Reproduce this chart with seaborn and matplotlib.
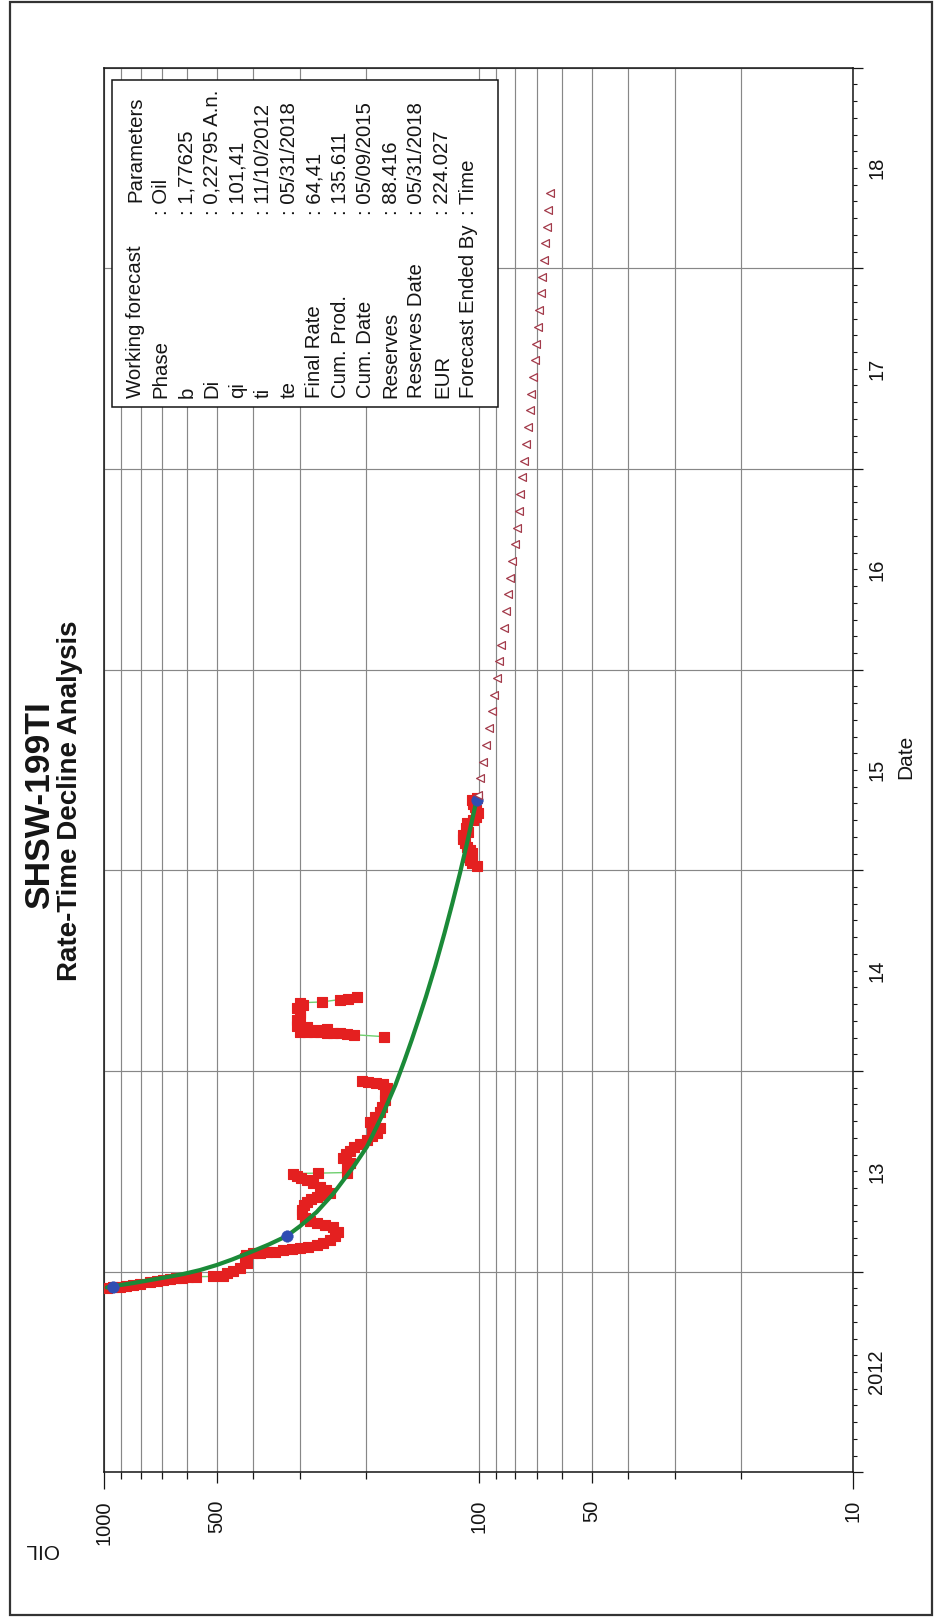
import matplotlib
matplotlib.use("Agg")
import matplotlib.pyplot as plt
import matplotlib.ticker as mticker
from matplotlib.patches import Rectangle
import pandas as pd
import seaborn as sns

# ---------------- data ----------------
# measured oil rate (date in decimal years, rate) grouped by production period
prod_date = [
    2012.918, 2012.921, 2012.925, 2012.928, 2012.933, 2012.938, 2012.950, 2012.953,
    2012.956, 2012.962, 2012.966, 2012.970, 2012.972, 2012.975, 2012.976, 2012.978,
    2012.992, 2013.005, 2013.016, 2013.041, 2013.068, 2013.083, 2013.091, 2013.093,
    2013.096, 2013.100, 2013.108, 2013.113, 2013.119, 2013.125, 2013.133, 2013.143,
    2013.157, 2013.177, 2013.199, 2013.224, 2013.232, 2013.241, 2013.252, 2013.266,
    2013.287, 2013.307, 2013.332, 2013.348, 2013.362, 2013.373, 2013.382, 2013.390,
    2013.407, 2013.423, 2013.441, 2013.456, 2013.466, 2013.476, 2013.489, 2013.491,
    2013.494, 2013.516, 2013.541, 2013.566, 2013.586, 2013.601, 2013.621, 2013.636,
    2013.656, 2013.676, 2013.691, 2013.716, 2013.730, 2013.747, 2013.770, 2013.795,
    2013.822, 2013.855, 2013.885, 2013.915, 2013.935, 2013.942, 2013.945, 2013.948,
    2014.171, 2014.181, 2014.186, 2014.188, 2014.190, 2014.191, 2014.192, 2014.193,
    2014.194, 2014.195, 2014.205, 2014.211, 2014.218, 2014.224, 2014.254, 2014.270,
    2014.287, 2014.313, 2014.330, 2014.340, 2014.344, 2014.356, 2014.361, 2014.370,
    2015.021, 2015.036, 2015.050, 2015.066, 2015.084, 2015.101, 2015.118, 2015.134,
    2015.155, 2015.175, 2015.192, 2015.212, 2015.234, 2015.250, 2015.267, 2015.284,
    2015.300, 2015.316, 2015.333, 2015.350, 2015.358,
]
prod_oil = [
    985, 948, 908, 875, 837, 803, 755, 723,
    697, 668, 644, 620, 598, 569, 513, 481,
    471, 452, 434, 417, 421, 418, 400, 384,
    368, 350, 333, 316, 300, 286, 271, 261,
    250, 242, 237, 245, 257, 271, 282, 291,
    297, 297, 293, 288, 281, 271, 261, 250,
    256, 265, 277, 288, 298, 306, 313, 268,
    225, 225, 221, 230, 226, 221, 216, 208,
    199, 193, 187, 184, 193, 195, 189, 184,
    181, 178, 178, 176, 180, 188, 198, 205,
    179, 216, 225, 235, 245, 255, 265, 275,
    288, 300, 271, 255, 288, 306, 306, 300,
    300, 306, 294, 300, 263, 235, 224, 212,
    101.3, 104.5, 105.5, 106.7, 104.0, 105.6, 107.5, 108.9,
    110.0, 110.0, 106.7, 108.5, 107.7, 103.4, 101.5, 100.3,
    101.5, 102.4, 103.5, 104.5, 101.3,
]
prod_period = [1] * 80 + [2] * 24 + [3] * 21

# hyperbolic fit through the history
fit_date = [
    2012.921, 2012.933, 2012.943, 2012.958, 2012.973, 2012.988, 2013.008, 2013.033,
    2013.061, 2013.103, 2013.135, 2013.177, 2013.227, 2013.297, 2013.387, 2013.523,
    2013.622, 2013.789, 2013.930, 2014.054, 2014.154, 2014.254, 2014.370, 2014.523,
    2014.687, 2014.837, 2014.985, 2015.126, 2015.350,
]
fit_oil = [
    985, 908, 838, 755, 680, 616, 555, 501,
    455, 400, 364, 326, 300, 271, 245, 216,
    199, 180, 167, 157.8, 151.1, 145.0, 138.4, 130.7,
    123.5, 117.6, 112.3, 107.8, 101.41,
]

# selected points of the fit
anchor_date = [2012.923, 2013.179, 2015.350]
anchor_oil = [950, 326, 101.41]

# monthly forecast (working forecast, May 2015 - May 2018)
fcst_date = [
    2015.375, 2015.458, 2015.542, 2015.625, 2015.708, 2015.792, 2015.875, 2015.958,
    2016.042, 2016.125, 2016.208, 2016.292, 2016.375, 2016.458, 2016.542, 2016.625,
    2016.708, 2016.792, 2016.875, 2016.958, 2017.042, 2017.125, 2017.208, 2017.292,
    2017.375, 2017.458, 2017.542, 2017.625, 2017.708, 2017.792, 2017.875, 2017.958,
    2018.042, 2018.125, 2018.208, 2018.292, 2018.375,
]
fcst_oil = [
    100.8, 99.0, 97.2, 95.6, 94.0, 92.4, 91.0, 89.6,
    88.3, 87.0, 85.7, 84.6, 83.4, 82.3, 81.3, 80.2,
    79.2, 78.3, 77.4, 76.5, 75.6, 74.8, 74.0, 73.2,
    72.4, 71.6, 70.9, 70.2, 69.5, 68.9, 68.2, 67.6,
    67.0, 66.4, 65.8, 65.2, 64.41,
]

oil_ticks = [1000, 500, 100, 50, 10]
oil_tick_labels = ["1000", "500", "100", "50", "10"]
year_labels = ["2012", "13", "14", "15", "16", "17", "18"]
year_label_pos = [2012.5, 2013.5, 2014.5, 2015.5, 2016.5, 2017.5, 2018.5]

param_names = ["Working forecast", "Phase", "b", "Di", "qi", "ti", "te", "Final Rate",
               "Cum. Prod.", "Cum. Date", "Reserves", "Reserves Date", "EUR",
               "Forecast Ended By"]
param_values = ["Parameters", ": Oil", ": 1,77625", ": 0,22795 A.n.", ": 101,41",
                ": 11/10/2012", ": 05/31/2018", ": 64,41", ": 135.611", ": 05/09/2015",
                ": 88.416", ": 05/31/2018", ": 224.027", ": Time"]

prod = pd.DataFrame({"date": prod_date, "oil": prod_oil, "period": prod_period})
fit = pd.DataFrame({"date": fit_date, "oil": fit_oil})
anchors = pd.DataFrame({"date": anchor_date, "oil": anchor_oil})
fcst = pd.DataFrame({"date": fcst_date, "oil": fcst_oil})

# ---------------- style ----------------
sns.set_theme(style="white")
plt.rcParams["font.family"] = ["Liberation Sans", "DejaVu Sans"]

RED = "#e42020"
LINK = "#6fcf6f"
FIT = "#1b8a38"
BLUE = "#2f4db3"
TRI = "#a33b4b"
GRID = "#878787"
INK = "#151515"

W, H = 936, 1619
fig = plt.figure(figsize=(W / 100, H / 100), dpi=100)
fig.patch.set_facecolor("white")


def fx(px):
    return px / W


def fy(py):
    return 1 - py / H


ax_l, ax_r, ax_t, ax_b = 104.3, 853.3, 67.7, 1472.3
ax = fig.add_axes([fx(ax_l), fy(ax_b), fx(ax_r) - fx(ax_l), fy(ax_t) - fy(ax_b)])
ax.set_facecolor("white")

# ---------------- marks ----------------
sns.lineplot(data=prod, x="oil", y="date", units="period", estimator=None, sort=False,
             color=LINK, linewidth=1.0, ax=ax, legend=False, zorder=3)
sns.scatterplot(data=prod, x="oil", y="date", marker="s", s=44, color=RED,
                edgecolor=RED, linewidth=0.8, ax=ax, legend=False, zorder=4)
sns.lineplot(data=fit, x="oil", y="date", estimator=None, sort=False,
             color=FIT, linewidth=3.0, ax=ax, legend=False, zorder=5)
sns.scatterplot(data=anchors, x="oil", y="date", marker="o", s=70, color=BLUE,
                edgecolor=BLUE, linewidth=0.3, ax=ax, legend=False, zorder=6)
sns.scatterplot(data=fcst, x="oil", y="date", marker="<", s=32, facecolor="white",
                edgecolor=TRI, linewidth=0.9, ax=ax, legend=False, zorder=6)

# ---------------- axes ----------------
ax.set_xscale("log")
ax.set_xlim(1000, 10)
ax.set_ylim(2012, 2019)
ax.set_xlabel("")
ax.set_ylabel("")

ax.xaxis.set_major_locator(mticker.FixedLocator(oil_ticks))
ax.xaxis.set_major_formatter(mticker.FixedFormatter(oil_tick_labels))
ax.xaxis.set_minor_locator(mticker.LogLocator(base=10, subs=(2, 3, 4, 6, 7, 8, 9)))
ax.xaxis.set_minor_formatter(mticker.NullFormatter())

ax.yaxis.tick_right()
ax.yaxis.set_major_locator(mticker.MultipleLocator(1))
ax.yaxis.set_minor_locator(mticker.MultipleLocator(1 / 12))
ax.yaxis.set_major_formatter(mticker.NullFormatter())
ax.yaxis.set_minor_formatter(mticker.NullFormatter())

ax.set_axisbelow(True)
ax.grid(True, axis="x", which="both", color=GRID, linewidth=0.85)
ax.grid(True, axis="y", which="major", color=GRID, linewidth=0.85)

ax.tick_params(axis="x", which="major", bottom=True, top=False, direction="out",
               length=8, width=0.9, color=INK, labelsize=14.5, labelcolor=INK,
               labelrotation=90, pad=12)
ax.tick_params(axis="x", which="minor", bottom=True, top=False, direction="out",
               length=5, width=0.9, color=INK)
ax.tick_params(axis="y", which="major", left=False, right=True, direction="out",
               length=7.5, width=0.9, color=INK, labelleft=False, labelright=False)
ax.tick_params(axis="y", which="minor", left=False, right=True, direction="out",
               length=3, width=0.8, color=INK)

# the end ticks of the rate axis reach a little further
xt = ax.xaxis.get_major_ticks()
for t in (xt[0], xt[-1]):
    t.tick1line.set_markersize(12)

for sp in ax.spines.values():
    sp.set_visible(True)
    sp.set_color(INK)
    sp.set_linewidth(1.1)

# year labels at mid-year, beside the date axis
for lbl, pos in zip(year_labels, year_label_pos):
    ax.text(1 + 14 / (ax_r - ax_l), pos, lbl, transform=ax.get_yaxis_transform(),
            rotation=90, ha="left", va="center", fontsize=14.5, color=INK)

# ---------------- titles and axis names ----------------
fig.text(fx(39.5), fy(805), "SHSW-199TI", rotation=90, ha="center", va="center",
         fontsize=25.5, fontweight="bold", color=INK)
fig.text(fx(70.5), fy(801), "Rate-Time Decline Analysis", rotation=90, ha="center",
         va="center", fontsize=20, fontweight="bold", color=INK)
fig.text(fx(906), fy(757), "Date", rotation=90, ha="center", va="center",
         fontsize=15, color=INK)
fig.text(fx(41), fy(1549), "OIL", rotation=180, ha="center", va="center",
         fontsize=15, color=INK)

# ---------------- parameter box ----------------
box_l, box_r, box_t, box_b = 111.7, 498.0, 80.0, 406.7
fig.add_artist(Rectangle((fx(box_l), fy(box_b)), fx(box_r) - fx(box_l),
                         fy(box_t) - fy(box_b), transform=fig.transFigure,
                         facecolor="white", edgecolor=INK, linewidth=1.1, zorder=5))
for i, (name, val) in enumerate(zip(param_names, param_values)):
    xc = 135.6 + 25.57 * i
    fig.text(fx(xc), fy(398.3), name, rotation=90, ha="center", va="bottom",
             fontsize=14.7, color=INK, zorder=6)
    vy = 201.7 if i == 0 else 215.0
    fig.text(fx(xc), fy(vy), val, rotation=90, ha="center", va="bottom",
             fontsize=14.7, color=INK, zorder=6)

# ---------------- page frame ----------------
fig.add_artist(Rectangle((fx(9.5), fy(1615)), fx(932) - fx(9.5), fy(2) - fy(1615),
                         transform=fig.transFigure, fill=False, edgecolor="#333333",
                         linewidth=1.6, zorder=10))

fig.savefig("out.png", dpi=100, facecolor="white")
